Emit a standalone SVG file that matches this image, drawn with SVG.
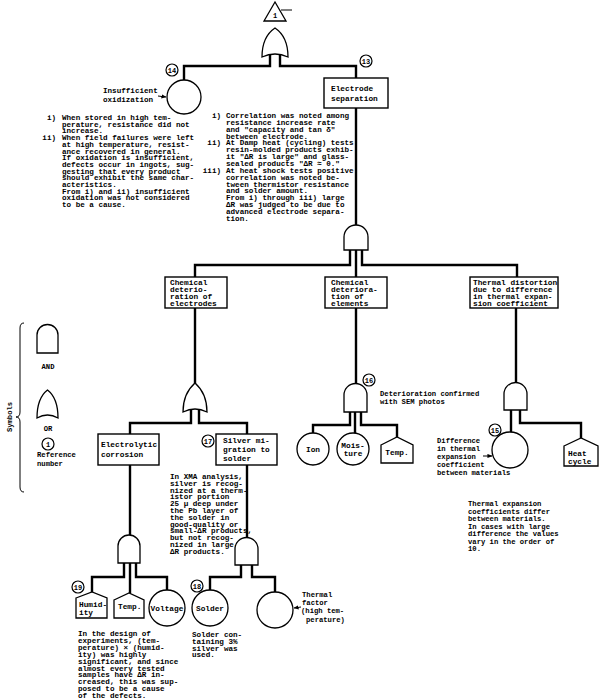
<svg xmlns="http://www.w3.org/2000/svg" width="600" height="700" viewBox="0 0 600 700">
<defs>
<style>
.t{font-family:"Liberation Mono","DejaVu Sans Mono",monospace;font-weight:bold;font-size:7.6px;fill:#000}
.tb{font-family:"Liberation Mono","DejaVu Sans Mono",monospace;font-weight:bold;font-size:7.8px;fill:#000}
.ts{font-family:"Liberation Mono","DejaVu Sans Mono",monospace;font-weight:bold;font-size:7.2px;fill:#000}
.rn{font-family:"Liberation Mono","DejaVu Sans Mono",monospace;font-weight:bold;font-size:7px;fill:#000;text-anchor:middle}
.ln{stroke:#000;stroke-width:2.4;fill:none}
.g{fill:#fff;stroke:#000;stroke-width:1.3}
.bx{fill:#fff;stroke:#000;stroke-width:1.4}
.rc{fill:#fff;stroke:#000;stroke-width:1.2}
.ar{stroke:#000;stroke-width:1;fill:none}
</style>
<marker id="ah" viewBox="0 0 6 6" refX="5.5" refY="3" markerWidth="5" markerHeight="5" orient="auto"><path d="M0,0.5 L6,3 L0,5.5 Z" fill="#000"/></marker>
</defs>
<rect width="600" height="700" fill="#fff"/>

<g id="connectors">
<!-- top OR to 14 and 13 -->
<polyline class="ln" points="270,55 270,66 184,66 184,80"/>
<polyline class="ln" points="280,55 280,66 356,66 356,78"/>
<!-- 13 to AND -->
<line class="ln" x1="356" y1="108" x2="356" y2="226"/>
<polyline class="ln" points="350,249 350,265 195,265 195,277"/>
<line class="ln" x1="356" y1="249" x2="356" y2="277"/>
<polyline class="ln" points="362,249 362,265 517,265 517,277"/>
<!-- electrodes branch -->
<line class="ln" x1="195" y1="308" x2="195" y2="384"/>
<polyline class="ln" points="191,410 191,423 130,423 130,434"/>
<polyline class="ln" points="199,410 199,423 247,423 247,434"/>
<line class="ln" x1="130" y1="465" x2="130" y2="536"/>
<polyline class="ln" points="124,562 124,577 92,577 92,593"/>
<line class="ln" x1="130" y1="562" x2="130" y2="593"/>
<polyline class="ln" points="136,562 136,577 167,577 167,590"/>
<line class="ln" x1="247" y1="465" x2="247" y2="539"/>
<polyline class="ln" points="241,564 241,577 210,577 210,590"/>
<polyline class="ln" points="252,564 252,577 275,577 275,592"/>
<!-- elements branch -->
<line class="ln" x1="356" y1="308" x2="356" y2="384"/>
<polyline class="ln" points="350,411 350,425 313,425 313,433"/>
<line class="ln" x1="355" y1="411" x2="355" y2="433"/>
<polyline class="ln" points="361,411 361,425 397,425 397,438"/>
<!-- thermal branch -->
<line class="ln" x1="516" y1="308" x2="516" y2="384"/>
<line class="ln" x1="511" y1="409" x2="511" y2="432"/>
<polyline class="ln" points="520,409 520,423 581,423 581,439"/>
</g>

<g id="top-event">
<polygon class="g" points="275,2 264,21 286,21"/>
<text class="rn" x="275" y="18">1</text>
<line stroke="#000" stroke-width="1" x1="281" y1="10" x2="292" y2="10"/>
</g>

<g id="gate-or-top">
<path class="g" d="M262,57 Q275,51 288,57 C288,43 284,34 275,28 C266,34 262,43 262,57 Z"/>
</g>

<g id="node14">
<circle class="g" cx="184" cy="97" r="17"/>
<circle class="rc" cx="172" cy="70" r="6"/>
<text class="rn" x="172" y="72.5">14</text>
<text class="t" x="103" y="93">Insufficient</text>
<text class="t" x="103" y="102">oxidization</text>
<line class="ar" x1="158" y1="96" x2="166" y2="97" marker-end="url(#ah)"/>
</g>

<g id="note14">
<text class="t" x="56" y="120" text-anchor="end">i)</text>
<text class="t" x="56" y="140.1" text-anchor="end">ii)</text>
<text class="t">
<tspan x="62" y="120">When stored in high tem-</tspan>
<tspan x="62" y="126.7">perature, resistance did not</tspan>
<tspan x="62" y="133.4">increase.</tspan>
<tspan x="62" y="140.1">When field failures were left</tspan>
<tspan x="62" y="146.8">at high temperature, resist-</tspan>
<tspan x="62" y="153.5">ance recovered in general.</tspan>
<tspan x="62" y="160.2">If oxidation is insufficient,</tspan>
<tspan x="62" y="166.9">defects occur in ingots, sug-</tspan>
<tspan x="62" y="173.6">gesting that every product</tspan>
<tspan x="62" y="180.3">should exhibit the same char-</tspan>
<tspan x="62" y="187">acteristics.</tspan>
<tspan x="62" y="193.7">From i) and ii) insufficient</tspan>
<tspan x="62" y="200.4">oxidation was not considered</tspan>
<tspan x="62" y="207.1">to be a cause.</tspan>
</text>
</g>

<g id="node13">
<rect class="bx" x="324" y="78" width="64" height="30"/>
<text class="tb" x="331" y="91">Electrode</text>
<text class="tb" x="331" y="101">separation</text>
<circle class="rc" cx="366" cy="61" r="6"/>
<text class="rn" x="366" y="63.5">13</text>
</g>

<g id="note13">
<text class="t" x="221" y="118" text-anchor="end">i)</text>
<text class="t" x="221" y="145.4" text-anchor="end">ii)</text>
<text class="t" x="221" y="172.8" text-anchor="end">iii)</text>
<text class="t">
<tspan x="226" y="118">Correlation was noted among</tspan>
<tspan x="226" y="124.85">resistance increase rate</tspan>
<tspan x="226" y="131.7">and "capacity and tan δ"</tspan>
<tspan x="226" y="138.55">between electrode.</tspan>
<tspan x="226" y="145.4">At Damp heat (cycling) tests</tspan>
<tspan x="226" y="152.25">resin-molded products exhib-</tspan>
<tspan x="226" y="159.1">it "ΔR is large" and glass-</tspan>
<tspan x="226" y="165.95">sealed products "ΔR ≈ 0."</tspan>
<tspan x="226" y="172.8">At heat shock tests positive</tspan>
<tspan x="226" y="179.65">correlation was noted be-</tspan>
<tspan x="226" y="186.5">tween thermistor resistance</tspan>
<tspan x="226" y="193.35">and solder amount.</tspan>
<tspan x="226" y="200.2">From i) through iii) large</tspan>
<tspan x="226" y="207.05">ΔR was judged to be due to</tspan>
<tspan x="226" y="213.9">advanced electrode separa-</tspan>
<tspan x="226" y="220.75">tion.</tspan>
</text>
</g>

<g id="gate-and-1">
<path class="g" d="M344,250 V237 A12,12 0 0 1 368,237 V250 Z"/>
</g>

<g id="box-electrodes">
<rect class="bx" x="165" y="277" width="62" height="31"/>
<text class="tb"><tspan x="170" y="285">Chemical</tspan><tspan x="170" y="292">deterio-</tspan><tspan x="170" y="299">ration of</tspan><tspan x="170" y="306">electrodes</tspan></text>
</g>

<g id="box-elements">
<rect class="bx" x="325" y="277" width="62" height="31"/>
<text class="tb"><tspan x="331" y="285">Chemical</tspan><tspan x="331" y="292">deteriora-</tspan><tspan x="331" y="299">tion of</tspan><tspan x="331" y="306">elements</tspan></text>
</g>

<g id="box-thermal">
<rect class="bx" x="470" y="277" width="88" height="31"/>
<text class="tb"><tspan x="473" y="285">Thermal distortion</tspan><tspan x="473" y="292">due to difference</tspan><tspan x="473" y="299">in thermal expan-</tspan><tspan x="473" y="306">sion coefficient</tspan></text>
</g>

<g id="legend">
<path d="M24,323 Q20,323 20,328 L20,412 Q20,417 16,417 Q20,417 20,422 L20,487 Q20,492 24,492" fill="none" stroke="#000" stroke-width="1"/>
<text class="ts" transform="translate(12,417) rotate(-90)" text-anchor="middle">Symbols</text>
<path class="g" d="M37,353 V335 A10.5,10.5 0 0 1 58,335 V353 Z"/>
<text class="ts" x="48" y="369" text-anchor="middle">AND</text>
<path class="g" d="M37,418 Q47.5,412 58,418 C58,404 54,395 47.5,390 C41,395 37,404 37,418 Z"/>
<text class="ts" x="48" y="431" text-anchor="middle">OR</text>
<circle class="rc" cx="48" cy="444" r="6"/>
<text class="rn" x="48" y="446.5">1</text>
<text class="ts" x="37" y="457">Reference</text>
<text class="ts" x="37" y="466">number</text>
</g>

<g id="gate-or-2">
<path class="g" d="M183,412 Q195,406 207,412 C207,399 203,390 195,383 C187,390 183,399 183,412 Z"/>
</g>

<g id="box-electrolytic">
<rect class="bx" x="98" y="434" width="61" height="31"/>
<text class="tb"><tspan x="101" y="447">Electrolytic</tspan><tspan x="101" y="457">corrosion</tspan></text>
</g>

<g id="node17">
<rect class="bx" x="216" y="434" width="61" height="31"/>
<text class="tb"><tspan x="223" y="443">Silver mi-</tspan><tspan x="223" y="452">gration to</tspan><tspan x="223" y="461">solder</tspan></text>
<circle class="rc" cx="208" cy="441" r="6"/>
<text class="rn" x="208" y="443.5">17</text>
</g>

<g id="note17">
<text class="t"><tspan x="170" y="479">In XMA analysis,</tspan><tspan x="170" y="485.8">silver is recog-</tspan><tspan x="170" y="492.6">nized at a therm-</tspan><tspan x="170" y="499.4">istor portion</tspan><tspan x="170" y="506.2">25 μ deep under</tspan><tspan x="170" y="513">the Pb layer of</tspan><tspan x="170" y="519.8">the solder in</tspan><tspan x="170" y="526.6">good-quality or</tspan><tspan x="170" y="533.4">small-ΔR products,</tspan><tspan x="170" y="540.2">but not recog-</tspan><tspan x="170" y="547">nized in large-</tspan><tspan x="170" y="553.8">ΔR products.</tspan></text>
</g>

<g id="gate-and-3">
<path class="g" d="M118,563 V546 A11,11 0 0 1 140,546 V563 Z"/>
</g>

<g id="node19">
<polygon class="g" points="76,598 92,592 107,598 107,618 76,618"/>
<text class="tb"><tspan x="79" y="607">Humid-</tspan><tspan x="79" y="615">ity</tspan></text>
<circle class="rc" cx="78" cy="587" r="6"/>
<text class="rn" x="78" y="589.5">19</text>
</g>

<g id="node-temp1">
<polygon class="g" points="114,600 129,593 144,600 144,618 114,618"/>
<text class="tb" x="118" y="609">Temp.</text>
</g>

<g id="node-voltage">
<circle class="g" cx="167" cy="608" r="18"/>
<text class="tb" x="167" y="611" text-anchor="middle">Voltage</text>
</g>

<g id="note19">
<text class="t"><tspan x="78" y="636">In the design of</tspan><tspan x="78" y="642.9">experiments, (tem-</tspan><tspan x="78" y="649.8">perature) × (humid-</tspan><tspan x="78" y="656.7">ity) was highly</tspan><tspan x="78" y="663.6">significant, and since</tspan><tspan x="78" y="670.5">almost every tested</tspan><tspan x="78" y="677.4">samples have ΔR in-</tspan><tspan x="78" y="684.3">creased, this was sup-</tspan><tspan x="78" y="691.2">posed to be a cause</tspan><tspan x="78" y="698.1">of the defects.</tspan></text>
</g>

<g id="gate-and-4">
<path class="g" d="M235,565 V549 A11.5,11.5 0 0 1 258,549 V565 Z"/>
</g>

<g id="node18">
<circle class="g" cx="210" cy="608" r="18"/>
<text class="tb" x="210" y="611" text-anchor="middle">Solder</text>
<circle class="rc" cx="197" cy="586" r="6"/>
<text class="rn" x="197" y="588.5">18</text>
</g>

<g id="note18">
<text class="t"><tspan x="192" y="637">Solder con-</tspan><tspan x="192" y="643.8">taining 3%</tspan><tspan x="192" y="650.6">silver was</tspan><tspan x="192" y="657.4">used.</tspan></text>
</g>

<g id="node-thermal-factor">
<circle class="g" cx="275" cy="610" r="18"/>
<line class="ar" x1="301" y1="607" x2="294" y2="608" marker-end="url(#ah)"/>
<text class="ts"><tspan x="302" y="597">Thermal</tspan><tspan x="302" y="605">factor</tspan><tspan x="301" y="613">(high tem-</tspan><tspan x="306" y="622">perature)</tspan></text>
</g>

<g id="gate-and-16">
<path class="g" d="M344,412 V395 A11.5,11.5 0 0 1 367,395 V412 Z"/>
<circle class="rc" cx="369" cy="380" r="6"/>
<text class="rn" x="369" y="382.5">16</text>
<text class="ts"><tspan x="380" y="396">Deterioration confirmed</tspan><tspan x="380" y="404">with SEM photos</tspan></text>
</g>

<g id="node-ion">
<circle class="g" cx="313" cy="449" r="16"/>
<text class="tb" x="313" y="452" text-anchor="middle">Ion</text>
</g>

<g id="node-moisture">
<circle class="g" cx="353" cy="449" r="16"/>
<text class="tb" x="353" y="448" text-anchor="middle">Mois-</text>
<text class="tb" x="353" y="456" text-anchor="middle">ture</text>
</g>

<g id="node-temp2">
<polygon class="g" points="381,445 397,437 413,445 413,463 381,463"/>
<text class="tb" x="397" y="455" text-anchor="middle">Temp.</text>
</g>

<g id="gate-and-thermal">
<path class="g" d="M504,410 V394 A11.5,11.5 0 0 1 527,394 V410 Z"/>
</g>

<g id="node15">
<circle class="g" cx="510" cy="450" r="18"/>
<circle class="rc" cx="495" cy="430" r="6"/>
<text class="rn" x="495" y="432.5">15</text>
<text class="ts"><tspan x="437" y="443">Difference</tspan><tspan x="437" y="451">in thermal</tspan><tspan x="437" y="459">expansion</tspan><tspan x="437" y="467">coefficient</tspan><tspan x="437" y="475">between materials</tspan></text>
<line class="ar" x1="483" y1="456" x2="492" y2="456" marker-end="url(#ah)"/>
</g>

<g id="node-heat-cycle">
<polygon class="g" points="564,446 581,438 598,446 598,466 564,466"/>
<text class="tb"><tspan x="568" y="456">Heat</tspan><tspan x="568" y="464">cycle</tspan></text>
</g>

<g id="note15">
<text class="ts"><tspan x="468" y="506">Thermal expansion</tspan><tspan x="468" y="513.5">coefficients differ</tspan><tspan x="468" y="521">between materials.</tspan><tspan x="468" y="528.5">In cases with large</tspan><tspan x="468" y="536">difference the values</tspan><tspan x="468" y="543.5">vary in the order of</tspan><tspan x="468" y="551">10.</tspan></text>
</g>
</svg>
